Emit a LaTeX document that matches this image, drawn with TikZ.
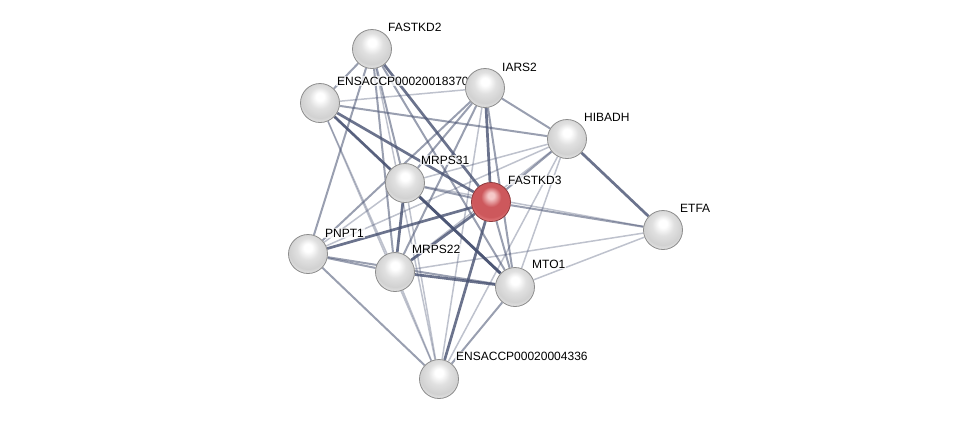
\documentclass[tikz,border=0pt]{standalone}
\usepackage{fontspec}
\setmainfont{Liberation Sans}
\pgfdeclarelayer{bg}
\pgfdeclarelayer{lab}
\pgfsetlayers{bg,lab,main}
\definecolor{rhi}{RGB}{245,200,200}
\definecolor{rbody}{RGB}{205,88,92}
\definecolor{rlow}{RGB}{238,140,142}
\definecolor{rrim}{RGB}{140,55,58}
\pgfdeclareradialshading{sphgray}{\pgfpoint{0bp}{9bp}}{color(0bp)=(white); color(5bp)=(white); color(14bp)=(black!12); color(24bp)=(black!18); color(31bp)=(black!8); color(34bp)=(black!30); color(50bp)=(black!30)}
\pgfdeclareradialshading{sphred}{\pgfpoint{0bp}{9bp}}{color(0bp)=(rhi); color(4bp)=(rhi); color(13bp)=(rbody); color(24bp)=(rbody); color(31bp)=(rlow); color(34bp)=(rrim); color(50bp)=(rrim)}
\definecolor{edgec}{RGB}{70,80,112}
\begin{document}
\begin{tikzpicture}[x=1pt,y=-1pt,
  prot/.style={circle,minimum size=39pt,inner sep=0pt,draw=black!45,line width=0.8pt,shading=sphgray},
  query/.style={prot,shading=sphred,draw=rrim},
  lbl/.style={anchor=west,font=\fontsize{12}{14}\selectfont,fill=white,fill opacity=0.75,text opacity=1,inner sep=1pt},
  thick e/.style={draw=edgec,line width=2.7pt,draw opacity=0.8},
  med e/.style={draw=edgec,line width=2pt,draw opacity=0.55},
  light e/.style={draw=edgec,line width=1.5pt,draw opacity=0.35}]
\useasboundingbox (0,0) rectangle (975,424);
\node[prot] (fk2) at (372,49) {};
\node[prot] (e18) at (320,103) {};
\node[prot] (iars) at (485,88) {};
\node[prot] (hib) at (567,139) {};
\node[prot] (m31) at (405,183) {};
\node[query] (fk3) at (491,202) {};
\node[prot] (etfa) at (663,230) {};
\node[prot] (pnp) at (308,254) {};
\node[prot] (m22) at (395,272) {};
\node[prot] (mto) at (515,287) {};
\node[prot] (e43) at (439,379) {};
\begin{pgfonlayer}{lab}
\node[lbl] at (387,27) {FASTKD2};
\node[lbl] at (336,81) {ENSACCP00020018370};
\node[lbl] at (501,67) {IARS2};
\node[lbl] at (583,117) {HIBADH};
\node[lbl] at (420,160) {MRPS31};
\node[lbl] at (507,180) {FASTKD3};
\node[lbl] at (679,208) {ETFA};
\node[lbl] at (324,233) {PNPT1};
\node[lbl] at (411,249) {MRPS22};
\node[lbl] at (531,264) {MTO1};
\node[lbl] at (455,356) {ENSACCP00020004336};
\end{pgfonlayer}
\begin{pgfonlayer}{bg}
\draw[med e] (fk2) -- (e18);
\draw[med e] (fk2) -- (pnp);
\draw[med e] (fk2) -- (m31);
\draw[med e] (fk2) -- (m22);
\draw[thick e] (fk2) -- (fk3);
\draw[med e] (fk2) -- (mto);
\draw[light e] (fk2) -- (e43);
\draw[light e] (e18) -- (iars);
\draw[med e] (e18) -- (hib);
\draw[med e] (e18) -- (m31);
\draw[thick e] (e18) -- (fk3);
\draw[thick e] (e18) -- (mto);
\draw[light e] (e18) -- (m22);
\draw[light e] (e18) -- (e43);
\draw[med e] (iars) -- (hib);
\draw[med e] (iars) -- (m31);
\draw[thick e] (iars) -- (fk3);
\draw[med e] (iars) -- (m22);
\draw[med e] (iars) -- (pnp);
\draw[med e] (iars) -- (mto);
\draw[light e] (iars) -- (e43);
\draw[thick e] (hib) -- (etfa);
\draw[med e] (hib) -- (fk3);
\draw[light e] (hib) -- (m31);
\draw[light e] (hib) -- (pnp);
\draw[light e] (hib) -- (m22);
\draw[light e] (hib) -- (mto);
\draw[light e] (hib) -- (e43);
\draw[med e] (fk3) -- (etfa);
\draw[med e] (fk3) -- (m31);
\draw[thick e] (fk3) -- (pnp);
\draw[thick e] (fk3) -- (m22);
\draw[med e] (fk3) -- (mto);
\draw[thick e] (fk3) -- (e43);
\draw[light e] (etfa) -- (mto);
\draw[light e] (etfa) -- (m22);
\draw[light e] (etfa) -- (m31);
\draw[light e] (m31) -- (pnp);
\draw[thick e] (m31) -- (m22);
\draw[thick e] (m31) -- (mto);
\draw[light e] (m31) -- (e43);
\draw[med e] (pnp) -- (m22);
\draw[med e] (pnp) -- (mto);
\draw[med e] (pnp) -- (e43);
\draw[thick e] (m22) -- (mto);
\draw[light e] (m22) -- (e43);
\draw[med e] (mto) -- (e43);
\end{pgfonlayer}
\end{tikzpicture}
\end{document}
